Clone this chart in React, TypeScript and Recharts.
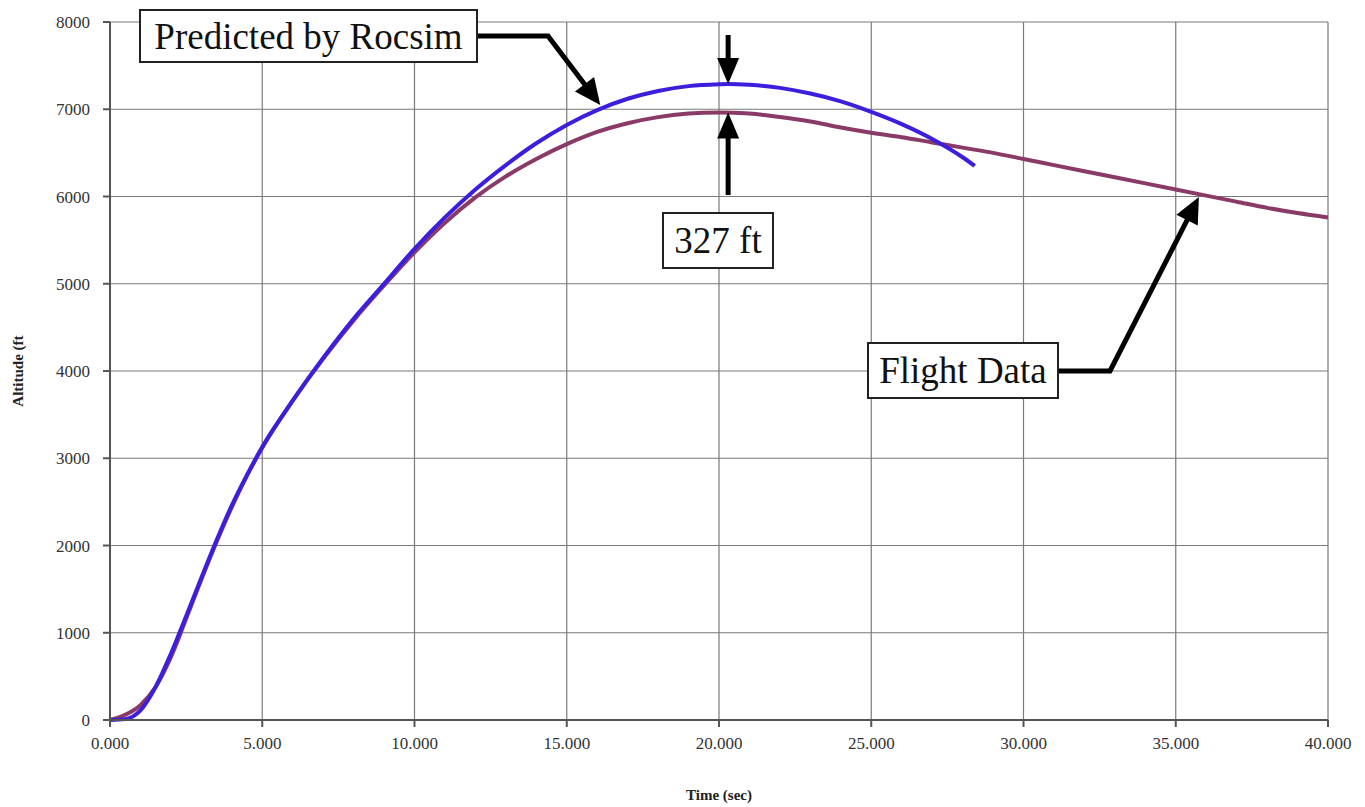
import { CartesianGrid, Line, LineChart, XAxis, YAxis } from "recharts";

// time (sec) and altitude (ft)
const flightTime = [0, 0.5, 1, 1.5, 2, 2.5, 3, 3.5, 4, 4.5, 5, 6, 7, 8, 9, 10, 11, 12, 13, 14, 15, 16, 17, 18, 19, 20, 21, 22, 23, 24, 25, 26, 27, 28, 29, 30, 31, 32, 33, 34, 35, 36, 37, 38, 39, 40];
const flightAlt = [0, 60, 170, 380, 720, 1160, 1610, 2040, 2440, 2800, 3120, 3660, 4140, 4580, 4980, 5360, 5700, 5990, 6230, 6430, 6600, 6740, 6840, 6910, 6950, 6963, 6950, 6910, 6860, 6790, 6730, 6680, 6620, 6560, 6500, 6430, 6360, 6290, 6220, 6150, 6080, 6010, 5940, 5870, 5810, 5760];

const rocsimTime = [0, 0.5, 1, 1.5, 2, 2.5, 3, 3.5, 4, 4.5, 5, 6, 7, 8, 9, 10, 11, 12, 13, 14, 15, 16, 17, 18, 19, 20, 20.3, 21, 22, 23, 24, 25, 26, 27, 28, 28.4];
const rocsimAlt = [0, 10, 110, 380, 760, 1190, 1630, 2060, 2460, 2810, 3130, 3660, 4150, 4600, 5000, 5400, 5760, 6080, 6360, 6610, 6820, 6990, 7120, 7210, 7265, 7287, 7290, 7280, 7245, 7180, 7090, 6970, 6830, 6660, 6450, 6350];

const xTicks = [0, 5, 10, 15, 20, 25, 30, 35, 40];
const yTicks = [0, 1000, 2000, 3000, 4000, 5000, 6000, 7000, 8000];

const flightData = flightTime.map((t, i) => ({ t, alt: flightAlt[i] }));
const rocsimData = rocsimTime.map((t, i) => ({ t, alt: rocsimAlt[i] }));

const W = 1365;
const H = 807;
const PLOT = { left: 110, right: 1328, top: 22, bottom: 720 };
const px = (t: number) => PLOT.left + (t / 40) * (PLOT.right - PLOT.left);
const py = (a: number) => PLOT.bottom - (a / 8000) * (PLOT.bottom - PLOT.top);

const FONT = "'Liberation Serif', 'Times New Roman', serif";

function Arrow({ pts, head = 26, half = 12 }: { pts: [number, number][]; head?: number; half?: number }) {
  const [x1, y1] = pts[pts.length - 2];
  const [x2, y2] = pts[pts.length - 1];
  const len = Math.hypot(x2 - x1, y2 - y1);
  const ux = (x2 - x1) / len;
  const uy = (y2 - y1) / len;
  const bx = x2 - ux * head;
  const by = y2 - uy * head;
  const line = pts.slice(0, -1).concat([[bx + ux * 2, by + uy * 2]]);
  return (
    <g>
      <polyline points={line.map((p) => p.join(",")).join(" ")} fill="none" stroke="#000" strokeWidth={5} strokeLinejoin="miter" />
      <polygon points={`${x2},${y2} ${bx - uy * half},${by + ux * half} ${bx + uy * half},${by - ux * half}`} fill="#000" />
    </g>
  );
}

function Callout({ x, y, w, h, text, size }: { x: number; y: number; w: number; h: number; text: string; size: number }) {
  return (
    <g>
      <rect x={x} y={y} width={w} height={h} fill="#fff" stroke="#222" strokeWidth={2} />
      <text x={x + w / 2} y={y + h / 2 + size * 0.34} textAnchor="middle" fontFamily={FONT} fontSize={size} fill="#111">
        {text}
      </text>
    </g>
  );
}

export default function App() {
  const rocsimTip: [number, number] = [px(16.1), py(7050)];
  const peakTop: [number, number] = [px(20.3), py(7290)];
  const peakLow: [number, number] = [px(20.3), py(6963)];
  const flightTip: [number, number] = [px(35.76), py(5995)];

  return (
    <div style={{ position: "absolute", left: 0, top: 0, width: W, height: H, background: "#fff" }}>
      <LineChart width={W} height={H} margin={{ top: PLOT.top, right: W - PLOT.right, bottom: 37, left: 0 }}>
        <CartesianGrid stroke="#7a7a7a" strokeWidth={1.2} />
        <XAxis
          dataKey="t"
          type="number"
          domain={[0, 40]}
          ticks={xTicks}
          tickFormatter={(v: number) => v.toFixed(3)}
          height={50}
          stroke="#555"
          strokeWidth={2}
          tickSize={7}
          tick={{ fontFamily: FONT, fontSize: 17, fill: "#333", dy: 8 }}
          allowDuplicatedCategory={false}
          label={{ value: "Time (sec)", position: "insideBottom", offset: -30, style: { fontFamily: FONT, fontSize: 15, fontWeight: "bold", fill: "#222" } }}
        />
        <YAxis
          type="number"
          domain={[0, 8000]}
          ticks={yTicks}
          width={PLOT.left}
          stroke="#555"
          strokeWidth={2}
          tickSize={7}
          tick={{ fontFamily: FONT, fontSize: 17, fill: "#333", dx: -11 }}
          label={{ value: "Altitude (ft", angle: -90, position: "insideLeft", offset: 18, style: { fontFamily: FONT, fontSize: 15, fontWeight: "bold", fill: "#222", textAnchor: "middle" } }}
        />
        <Line data={flightData} dataKey="alt" type="monotone" stroke="#8a3a66" strokeWidth={4} dot={false} isAnimationActive={false} />
        <Line data={rocsimData} dataKey="alt" type="monotone" stroke="#3b1fdc" strokeWidth={4} dot={false} isAnimationActive={false} />
      </LineChart>
      <svg width={W} height={H} style={{ position: "absolute", left: 0, top: 0, pointerEvents: "none" }}>
        <Arrow pts={[[477, 36], [548, 36], rocsimTip]} />
        <Callout x={140} y={10} w={337} h={52} text="Predicted by Rocsim" size={37} />
        <Arrow pts={[[peakTop[0], 35], peakTop]} head={26} half={11} />
        <Arrow pts={[[peakLow[0], 195], peakLow]} head={26} half={11} />
        <Callout x={663} y={213} w={110} h={55} text="327 ft" size={37} />
        <Arrow pts={[[1058, 371], [1110, 371], flightTip]} />
        <Callout x={868} y={343} w={190} h={55} text="Flight Data" size={37} />
      </svg>
    </div>
  );
}
